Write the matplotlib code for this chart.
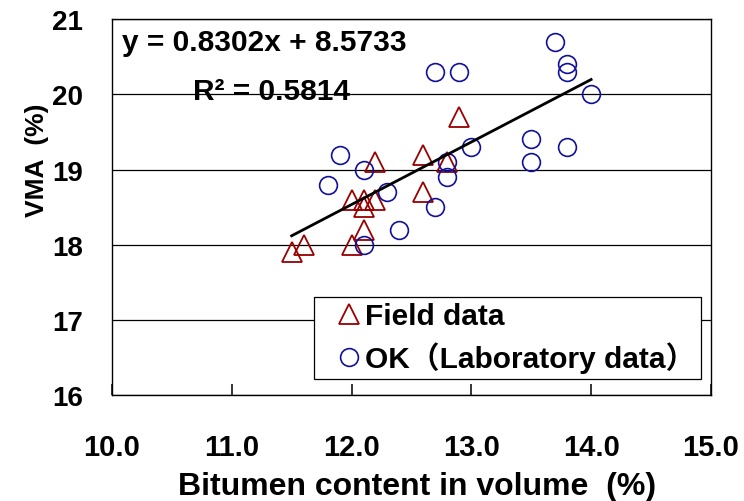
import numpy as np
import matplotlib
matplotlib.use("Agg")
import matplotlib.pyplot as plt
from matplotlib.lines import Line2D

plt.rcParams['font.family'] = ['Liberation Sans', 'Noto Sans CJK JP']
plt.rcParams['font.weight'] = 'bold'

# field measurements (triangles)
field_x = [11.5, 11.6, 12.0, 12.0, 12.1, 12.1, 12.1, 12.2, 12.2, 12.6, 12.6, 12.8, 12.9]
field_y = [17.9, 18.0, 18.0, 18.6, 18.6, 18.5, 18.2, 18.6, 19.1, 19.2, 18.7, 19.1, 19.7]

# OK laboratory data (circles)
lab_x = [13.7, 13.8, 13.8, 14.0, 12.7, 12.9, 13.5, 13.5, 13.8, 13.0,
         12.8, 12.8, 12.7, 12.3, 11.9, 12.1, 11.8, 12.4, 12.1]
lab_y = [20.7, 20.4, 20.3, 20.0, 20.3, 20.3, 19.4, 19.1, 19.3, 19.3,
         19.1, 18.9, 18.5, 18.7, 19.2, 19.0, 18.8, 18.2, 18.0]

# linear trend
slope = 0.8302
intercept = 8.5733
r2 = 0.5814
fit_x = [11.5, 14.0]

xticks = [10.0, 11.0, 12.0, 13.0, 14.0, 15.0]
yticks = [16, 17, 18, 19, 20, 21]

red = '#990000'
blue = '#10109a'
tri_ms, circ_ms = 14.5, 12.8

fig = plt.figure(figsize=(7.44, 5.02), dpi=100)
ax = fig.add_axes([0.1505, 0.2102, 0.805, 0.75])

ax.plot(field_x, field_y, linestyle='none', marker='^', ms=tri_ms,
        mfc='none', mec=red, mew=1.3, zorder=3)
ax.plot(lab_x, lab_y, linestyle='none', marker='o', ms=circ_ms,
        mfc='none', mec=blue, mew=1.2, zorder=3)

fx = np.array(fit_x)
ax.plot(fx, slope * fx + intercept, color='black', lw=2.0, zorder=4)

ax.set_xlim(10, 15)
ax.set_ylim(16, 21)
ax.set_xticks(xticks)
ax.set_xticklabels(['%.1f' % v for v in xticks])
ax.set_yticks(yticks)
ax.grid(axis='y', color='black', lw=0.9)
ax.set_axisbelow(True)

ax.tick_params(axis='x', direction='in', length=8, width=1.1, pad=27, labelsize=21)
ax.tick_params(axis='y', length=0, pad=21, labelsize=20)
for s in ax.spines.values():
    s.set_linewidth(1.0)

ax.set_xlabel('Bitumen content in volume  (%)', fontsize=23, fontweight='bold')
ax.xaxis.set_label_coords(0.51, -0.262)
ax.xaxis.label.set_va('baseline')
ax.set_ylabel('VMA  (%)', fontsize=19, fontweight='bold')
ax.yaxis.set_label_coords(-0.125, 0.628)
ax.yaxis.label.set_va('center')

ax.text(10.08, 20.69, 'y = %.4fx + %.4f' % (slope, intercept),
        fontsize=21.5, fontweight='bold', va='center', ha='left')
ax.text(10.675, 20.04, 'R² = %.4f' % r2,
        fontsize=21.5, fontweight='bold', va='center', ha='left')

handles = [
    Line2D([], [], linestyle='none', marker='^', ms=tri_ms, mfc='none', mec=red, mew=1.3),
    Line2D([], [], linestyle='none', marker='o', ms=circ_ms, mfc='none', mec=blue, mew=1.2),
]
leg = ax.legend(handles, ['Field data', 'OK（Laboratory data）'],
                loc='upper left', bbox_to_anchor=(0.337, 0.262),
                prop={'size': 21.5, 'weight': 'bold'},
                frameon=True, fancybox=False, framealpha=1,
                borderpad=0.18, handlelength=2.0, handletextpad=-0.45,
                labelspacing=0.38, borderaxespad=0)
leg.get_frame().set_edgecolor('black')
leg.get_frame().set_linewidth(0.9)

fig.savefig('out.png', dpi=100)
